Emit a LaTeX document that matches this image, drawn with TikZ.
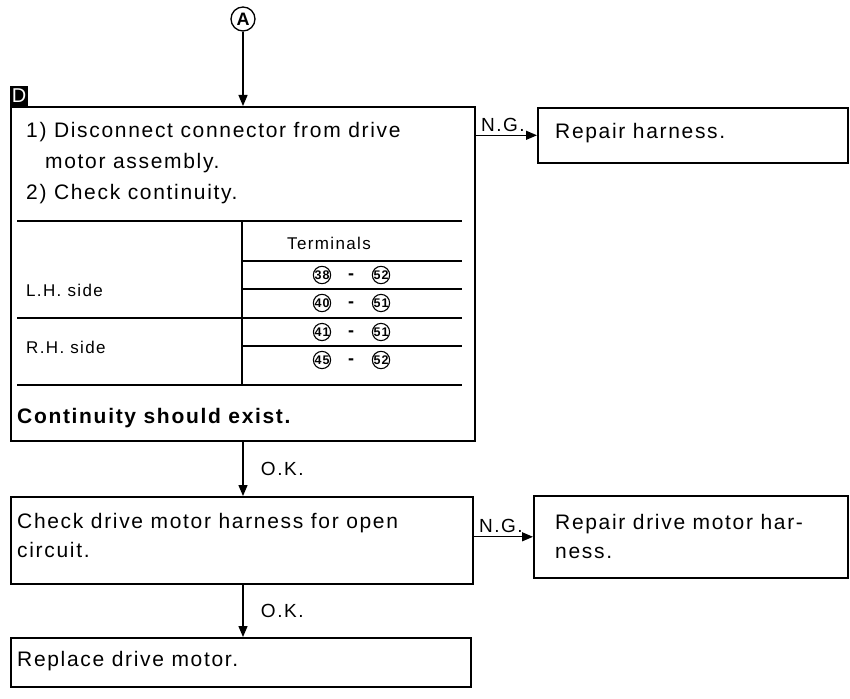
\documentclass[tikz,border=0pt]{standalone}
\usepackage{fontspec}
\setmainfont{Liberation Sans}[LetterSpace=8]
\usepackage{tikz}
\usetikzlibrary{arrows.meta,positioning}
\tikzset{
 stepbox/.style={
 rectangle,
 draw=black,
 line width=1.6pt,
 anchor=north west,
 inner sep=0pt
 },
 txt/.style={
 anchor=base west,
 inner sep=0pt,
 font=\fontsize{21}{25}\selectfont
 },
 small/.style={
 txt,
 font=\fontsize{17}{20}\selectfont
 },
 cnum/.style={
 circle,
 draw=black,
 line width=1.1pt,
 inner sep=0pt,
 minimum size=17pt,
 font=\fontsize{12.5}{12.5}\selectfont\bfseries
 },
 label/.style={font=\fontsize{19}{19}\selectfont},
 flowarrow/.style={-{Triangle[length=11pt,width=9pt]}, line width=1.3pt},
 rule/.style={line width=2.8pt},
 thinrule/.style={line width=1.3pt}
}

\begin{document}
\begin{tikzpicture}[x=1pt,y=-1pt]
 \useasboundingbox (0,0) rectangle (850,698);

 \node[circle, draw, line width=1.3pt, minimum size=24pt, inner sep=0pt, font=\fontsize{18}{18}\selectfont\bfseries] (markA) at (243,19) {A};
 \node[fill=black, text=white, anchor=south west, minimum width=18pt, minimum height=20pt, inner sep=0pt, font=\fontsize{20}{20}\selectfont] (tag) at (10,106) {D};

 \node[stepbox, minimum width=464pt, minimum height=334pt] (check) at (10,106) {};
 \node[stepbox, minimum width=310pt, minimum height=55pt] (repair) at (537,107) {};
 \node[stepbox, minimum width=462pt, minimum height=87pt] (harness) at (10,496) {};
 \node[stepbox, minimum width=314pt, minimum height=82pt] (repairmotor) at (533,495) {};
 \node[stepbox, minimum width=460pt, minimum height=49pt] (replace) at (10,637) {};

 \node[txt] (s1) at (26,137) {1) Disconnect connector from drive};
 \node[txt] (s1b) at (45,168) {motor assembly.};
 \node[txt] (s2) at (26,199) {2) Check continuity.};

 % table
 \draw[rule] (17,221) -- (462,221);
 \draw[rule] (17,385) -- (462,385);
 \draw[thinrule] (242,221) -- (242,385);
 \draw[thinrule] (242,261) -- (462,261);
 \draw[thinrule] (242,289) -- (462,289);
 \draw[thinrule] (17,318) -- (462,318);
 \draw[thinrule] (242,346) -- (462,346);
 \node[small] (term) at (287,249) {Terminals};
 \node[small] (lh) at (26,296) {L.H. side};
 \node[small] (rh) at (26,353) {R.H. side};
 \foreach \a/\b/\y in {38/52/275, 40/51/303, 41/51/332, 45/52/360} {
 \node[cnum] (l\y) at (322,\y) {\a};
 \node[font=\fontsize{18}{18}\selectfont\bfseries] (d\y) at (351,\y+2) {-};
 \node[cnum] (r\y) at (381,\y) {\b};
 }
 \node[txt, font=\fontsize{21}{25}\selectfont\bfseries] (exist) at (17,423) {Continuity should exist.};

 \node[txt] (t2) at (555,138) {Repair harness.};
 \node[txt] (t3) at (17,528) {Check drive motor harness for open};
 \node[txt] (t3b) at (17,557) {circuit.};
 \node[txt] (t4) at (555,529) {Repair drive motor har-};
 \node[txt] (t4b) at (555,558) {ness.};
 \node[txt] (t5) at (17,666) {Replace drive motor.};

 \draw[flowarrow] (markA) -- (markA |- check.north);
 \draw[flowarrow] (repair.west -| check.east) -- node[pos=0.03, anchor=south west, inner sep=3pt, label] {N.G.} (repair.west);
 \draw[flowarrow] (check.south -| markA) -- node[right=14pt, label] {O.K.} (harness.north -| markA);
 \draw[flowarrow] (repairmotor.west -| harness.east) -- node[pos=0.03, anchor=south west, inner sep=3pt, label] {N.G.} (repairmotor.west);
 \draw[flowarrow] (harness.south -| markA) -- node[right=14pt, label] {O.K.} (replace.north -| markA);
\end{tikzpicture}
\end{document}
